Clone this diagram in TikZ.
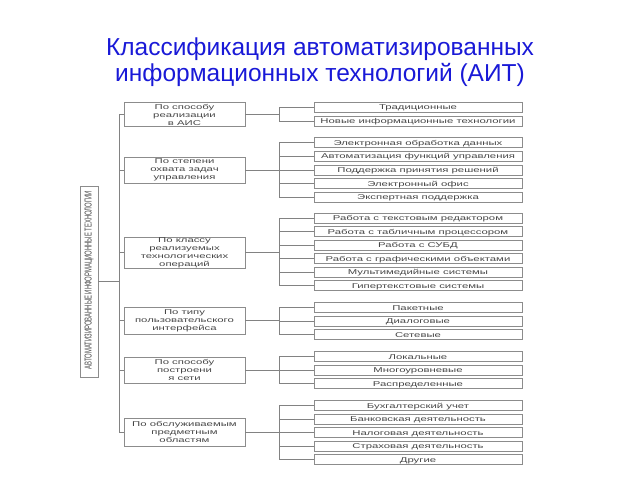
\documentclass[tikz,border=0pt]{standalone}
\usepackage{fontspec}
\setmainfont{Liberation Sans}
\usepackage{graphicx}
\definecolor{ttl}{RGB}{25,25,215}
\definecolor{ln}{RGB}{130,130,130}
\definecolor{bx}{RGB}{140,140,140}
\definecolor{tx}{RGB}{70,70,70}
\newcommand{\sx}[1]{\scalebox{1.62}[1]{#1}}
\begin{document}
\begin{tikzpicture}[x=1pt,y=-1pt,
  cat/.style={draw=bx, line width=0.6pt, minimum width=121pt, inner sep=0pt, align=center,
    text=tx, font=\fontsize{7}{8}\selectfont},
  leaf/.style={draw=bx, line width=0.6pt, minimum width=208pt, minimum height=10pt, inner sep=0pt,
    text height=6pt, text depth=0.6pt, text=tx, font=\fontsize{7}{8}\selectfont},
  conn/.style={draw=ln, line width=0.6pt}]
\useasboundingbox (0,0) rectangle (640,480);
\node[text=ttl, align=center, font=\fontsize{24.5}{26}\selectfont] (title) at (320,62)
  {Классификация автоматизированных\\информационных технологий (АИТ)};
\node[draw=bx, line width=0.6pt, minimum width=18pt, minimum height=191pt, inner sep=0pt] (root) at (89,281.5) {};
\node[rotate=90, text=tx, inner sep=0pt] (roottext) at (89,280)
  {\resizebox{178pt}{7pt}{АВТОМАТИЗИРОВАННЫЕ ИНФОРМАЦИОННЫЕ ТЕХНОЛОГИИ}};
% categories
\node[cat, minimum height=24pt] (c1) at (184.5,114.5) {\sx{По способу}\\\sx{реализации}\\\sx{в АИС}};
\node[cat, minimum height=26pt] (c2) at (184.5,170) {\sx{По степени}\\\sx{охвата задач}\\\sx{управления}};
\node[cat, minimum height=31pt] (c3) at (184.5,252.5) {\sx{По классу}\\\sx{реализуемых}\\\sx{технологических}\\\sx{операций}};
\node[cat, minimum height=27pt] (c4) at (184.5,320.5) {\sx{По типу}\\\sx{пользовательского}\\\sx{интерфейса}};
\node[cat, minimum height=26pt] (c5) at (184.5,370) {\sx{По способу}\\\sx{построени}\\\sx{я сети}};
\node[cat, minimum height=28pt] (c6) at (184.5,432) {\sx{По обслуживаемым}\\\sx{предметным}\\\sx{областям}};
% leaves
\foreach \i/\y/\t in {
 a1/107/Традиционные, a2/121/Новые информационные технологии,
 b1/142.5/Электронная обработка данных, b2/156.2/Автоматизация функций управления,
 b3/170/Поддержка принятия решений, b4/183.6/Электронный офис, b5/197.2/Экспертная поддержка,
 d1/218/Работа с текстовым редактором, d2/231.5/Работа с табличным процессором,
 d3/245/Работа с СУБД, d4/258.5/Работа с графическими объектами,
 d5/272/Мультимедийные системы, d6/285.5/Гипертекстовые системы,
 e1/307.5/Пакетные, e2/321/Диалоговые, e3/334.5/Сетевые,
 f1/356.5/Локальные, f2/370/Многоуровневые, f3/383.5/Распределенные,
 g1/405.5/Бухгалтерский учет, g2/419/Банковская деятельность,
 g3/432.5/Налоговая деятельность, g4/446/Страховая деятельность, g5/459.5/Другие}
 {\node[leaf] (\i) at (418,\y) {\sx{\t}};}
% trunk
\draw[conn] (root.east) -- (root.east -| 120,0);
\draw[conn] (c1.west) -- ++(-4,0) coordinate (tt) -- (tt |- c6.west) -- (c6.west);
\foreach \c in {c2,c3,c4,c5} \draw[conn] (\c.west) -- (\c.west -| tt);
% branches
\foreach \c/\first/\last/\list in {
  c1/a1/a2/{a1,a2}, c2/b1/b5/{b1,b2,b3,b4,b5}, c3/d1/d6/{d1,d2,d3,d4,d5,d6},
  c4/e1/e3/{e1,e2,e3}, c5/f1/f3/{f1,f2,f3}, c6/g1/g5/{g1,g2,g3,g4,g5}}
{
  \draw[conn] (\c.east) -- ++(34,0) coordinate (br);
  \draw[conn] (br |- \first.west) -- (br |- \last.west);
  \foreach \l in \list \draw[conn] (br |- \l.west) -- (\l.west);
}
\end{tikzpicture}
\end{document}
